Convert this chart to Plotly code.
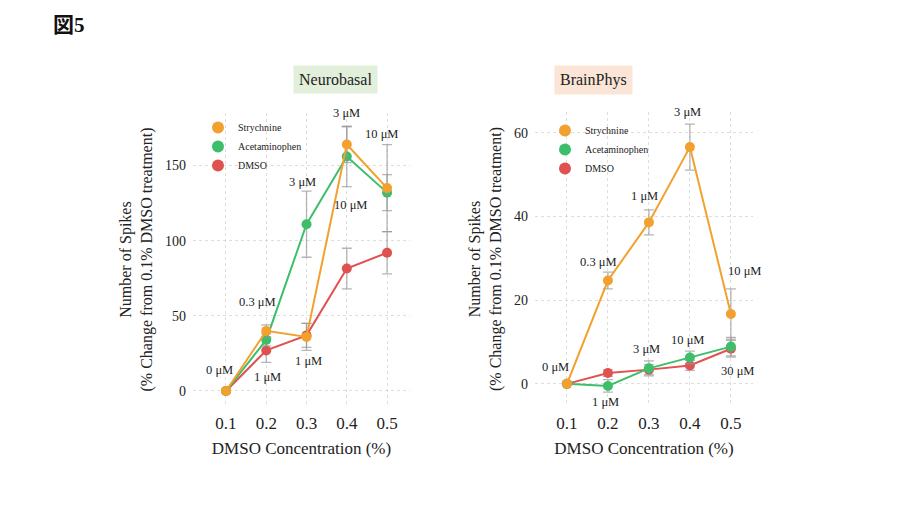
import plotly.graph_objects as go

# ---------------- data ----------------
dmso_conc = [0.1, 0.2, 0.3, 0.4, 0.5]
x_ticks = [0.1, 0.2, 0.3, 0.4, 0.5]
x_ticklabels = ["0.1", "0.2", "0.3", "0.4", "0.5"]

# Neurobasal
nb_strychnine = [0, 40, 36, 164, 135]
nb_strychnine_err = [0, 4, 9, 12, 29]
nb_acetaminophen = [0, 34, 111, 156, 132]
nb_acetaminophen_err = [0, 4, 22, 20, 12]
nb_dmso = [0, 27, 37, 81.5, 92]
nb_dmso_err = [0, 8, 8, 13.5, 14]
nb_yticks = [0, 50, 100, 150]

# BrainPhys
bp_strychnine = [0, 24.7, 38.6, 56.6, 16.7]
bp_strychnine_err = [0, 2, 3, 5.5, 6]
bp_acetaminophen = [0, -0.5, 3.7, 6.3, 8.9]
bp_acetaminophen_err = [0, 1.5, 1.8, 1.5, 2.2]
bp_dmso = [0, 2.6, 3.4, 4.4, 8.4]
bp_dmso_err = [0, 0.8, 1.2, 1.2, 2.0]
bp_yticks = [0, 20, 40, 60]

series_names = ["Strychnine", "Acetaminophen", "DMSO"]
series_colors = ["#F2A12E", "#3DBE6B", "#E0524F"]

nb_labels = ["0 μM", "1 μM", "0.3 μM", "1 μM", "3 μM", "3 μM", "10 μM", "10 μM", "30 μM"]
bp_labels = ["0 μM", "1 μM", "0.3 μM", "1 μM", "3 μM", "10 μM", "3 μM", "10 μM", "30 μM"]

# ---------------- figure ----------------
SERIF = "Liberation Serif, Times New Roman, serif"
fig = go.Figure()

def add_series(xa, ya, ys, errs, legend):
    # draw in order DMSO, Acetaminophen, Strychnine so orange on top
    for idx in [2, 1, 0]:
        fig.add_trace(go.Scatter(
            x=dmso_conc, y=ys[idx], name=series_names[idx],
            mode="lines+markers",
            line=dict(color=series_colors[idx], width=2),
            marker=dict(color=series_colors[idx], size=10),
            error_y=dict(type="data", array=errs[idx], visible=True,
                         color="rgba(150,150,150,0.7)", thickness=1.3, width=5),
            xaxis=xa, yaxis=ya, showlegend=False,
        ))
    # legend entries (markers only)
    for idx in [0, 1, 2]:
        fig.add_trace(go.Scatter(
            x=[None], y=[None], name=series_names[idx], mode="markers",
            marker=dict(color=series_colors[idx], size=10),
            xaxis=xa, yaxis=ya, legend=legend, showlegend=True,
        ))

add_series("x", "y", [nb_strychnine, nb_acetaminophen, nb_dmso],
           [nb_strychnine_err, nb_acetaminophen_err, nb_dmso_err], "legend")
add_series("x2", "y2", [bp_strychnine, bp_acetaminophen, bp_dmso],
           [bp_strychnine_err, bp_acetaminophen_err, bp_dmso_err], "legend2")

grid = "rgba(200,200,200,0.6)"
xcommon = dict(tickvals=x_ticks, ticktext=x_ticklabels, showgrid=True, gridcolor=grid,
               griddash="dot", zeroline=False, showline=False,
               tickfont=dict(family=SERIF, size=17, color="#222"), ticklabelstandoff=5,
               title=dict(text="DMSO Concentration (%)", font=dict(family=SERIF, size=17, color="#222"),
                          standoff=10),
               ticks="", ticklen=0)
ytitle = "Number of Spikes<br>(% Change from 0.1% DMSO treatment)"
ycommon = dict(showgrid=True, gridcolor=grid, griddash="dot", zeroline=False, showline=False,
               tickfont=dict(family=SERIF, size=14, color="#222"), ticks="", ticklabelstandoff=6)

legend_common = dict(xanchor="left", yanchor="top", bgcolor="rgba(0,0,0,0)",
                     font=dict(family=SERIF, size=10, color="#222"),
                     itemsizing="constant", tracegroupgap=0)

fig.update_layout(
    width=900, height=506,
    margin=dict(l=0, r=0, t=0, b=0),
    paper_bgcolor="white", plot_bgcolor="white",
    xaxis=dict(domain=[0.2144, 0.4556], range=[0.018, 0.557], **xcommon),
    yaxis=dict(domain=[0.1976, 0.7767], range=[-10, 185], tickvals=nb_yticks,
               title=dict(text=ytitle, font=dict(family=SERIF, size=16, color="#222"), standoff=8),
               **ycommon),
    xaxis2=dict(domain=[0.5944, 0.8367], range=[0.022, 0.554], anchor="y2", **xcommon),
    yaxis2=dict(domain=[0.1976, 0.7787], range=[-5.3, 65], tickvals=bp_yticks, anchor="x2",
                title=dict(text=ytitle, font=dict(family=SERIF, size=16, color="#222"), standoff=8),
                **ycommon),
    legend=dict(x=198/900, y=1-113/506, **legend_common),
    legend2=dict(x=545/900, y=1-116/506, **legend_common),
    showlegend=True,
)

# concentration labels
nb_pos = [(0.085, 14), (0.204, 9.3), (0.177, 59), (0.304, 20), (0.289, 139),
          (0.4, 185), (0.486, 171), (0.408, 123.5), (0.563, 125.5)]
bp_pos = [(0.071, 4.1), (0.195, -4.3), (0.178, 29.2), (0.29, 45), (0.395, 65),
          (0.532, 27), (0.295, 8.4), (0.395, 10.5), (0.515, 3.1)]
for txt, (px, py) in zip(nb_labels, nb_pos):
    fig.add_annotation(x=px, y=py, xref="x", yref="y", text=txt, showarrow=False,
                       font=dict(family=SERIF, size=12.5, color="#222"))
for txt, (px, py) in zip(bp_labels, bp_pos):
    fig.add_annotation(x=px, y=py, xref="x2", yref="y2", text=txt, showarrow=False,
                       font=dict(family=SERIF, size=12.5, color="#222"))

# panel titles
fig.add_annotation(x=293/900, y=1-80/506, xref="paper", yref="paper", text="Neurobasal",
                   showarrow=False, bgcolor="#E2EFDA", borderpad=5, yanchor="middle",
                   font=dict(family=SERIF, size=16, color="#222"))
fig.add_annotation(x=633/900, y=1-80/506, xref="paper", yref="paper", text="BrainPhys",
                   showarrow=False, bgcolor="#FBE5D6", borderpad=5, yanchor="middle",
                   font=dict(family=SERIF, size=16, color="#222"))
# figure label
fig.add_annotation(x=51/900, y=1-25/506, xref="paper", yref="paper", text="<b>図5</b>",
                   showarrow=False, xanchor="left", yanchor="middle",
                   font=dict(family="Liberation Serif, Noto Sans CJK JP", size=21, color="#111"))

fig.write_html("out.html", config={"displayModeBar": False},
               post_script="document.body.style.margin='0px';")
